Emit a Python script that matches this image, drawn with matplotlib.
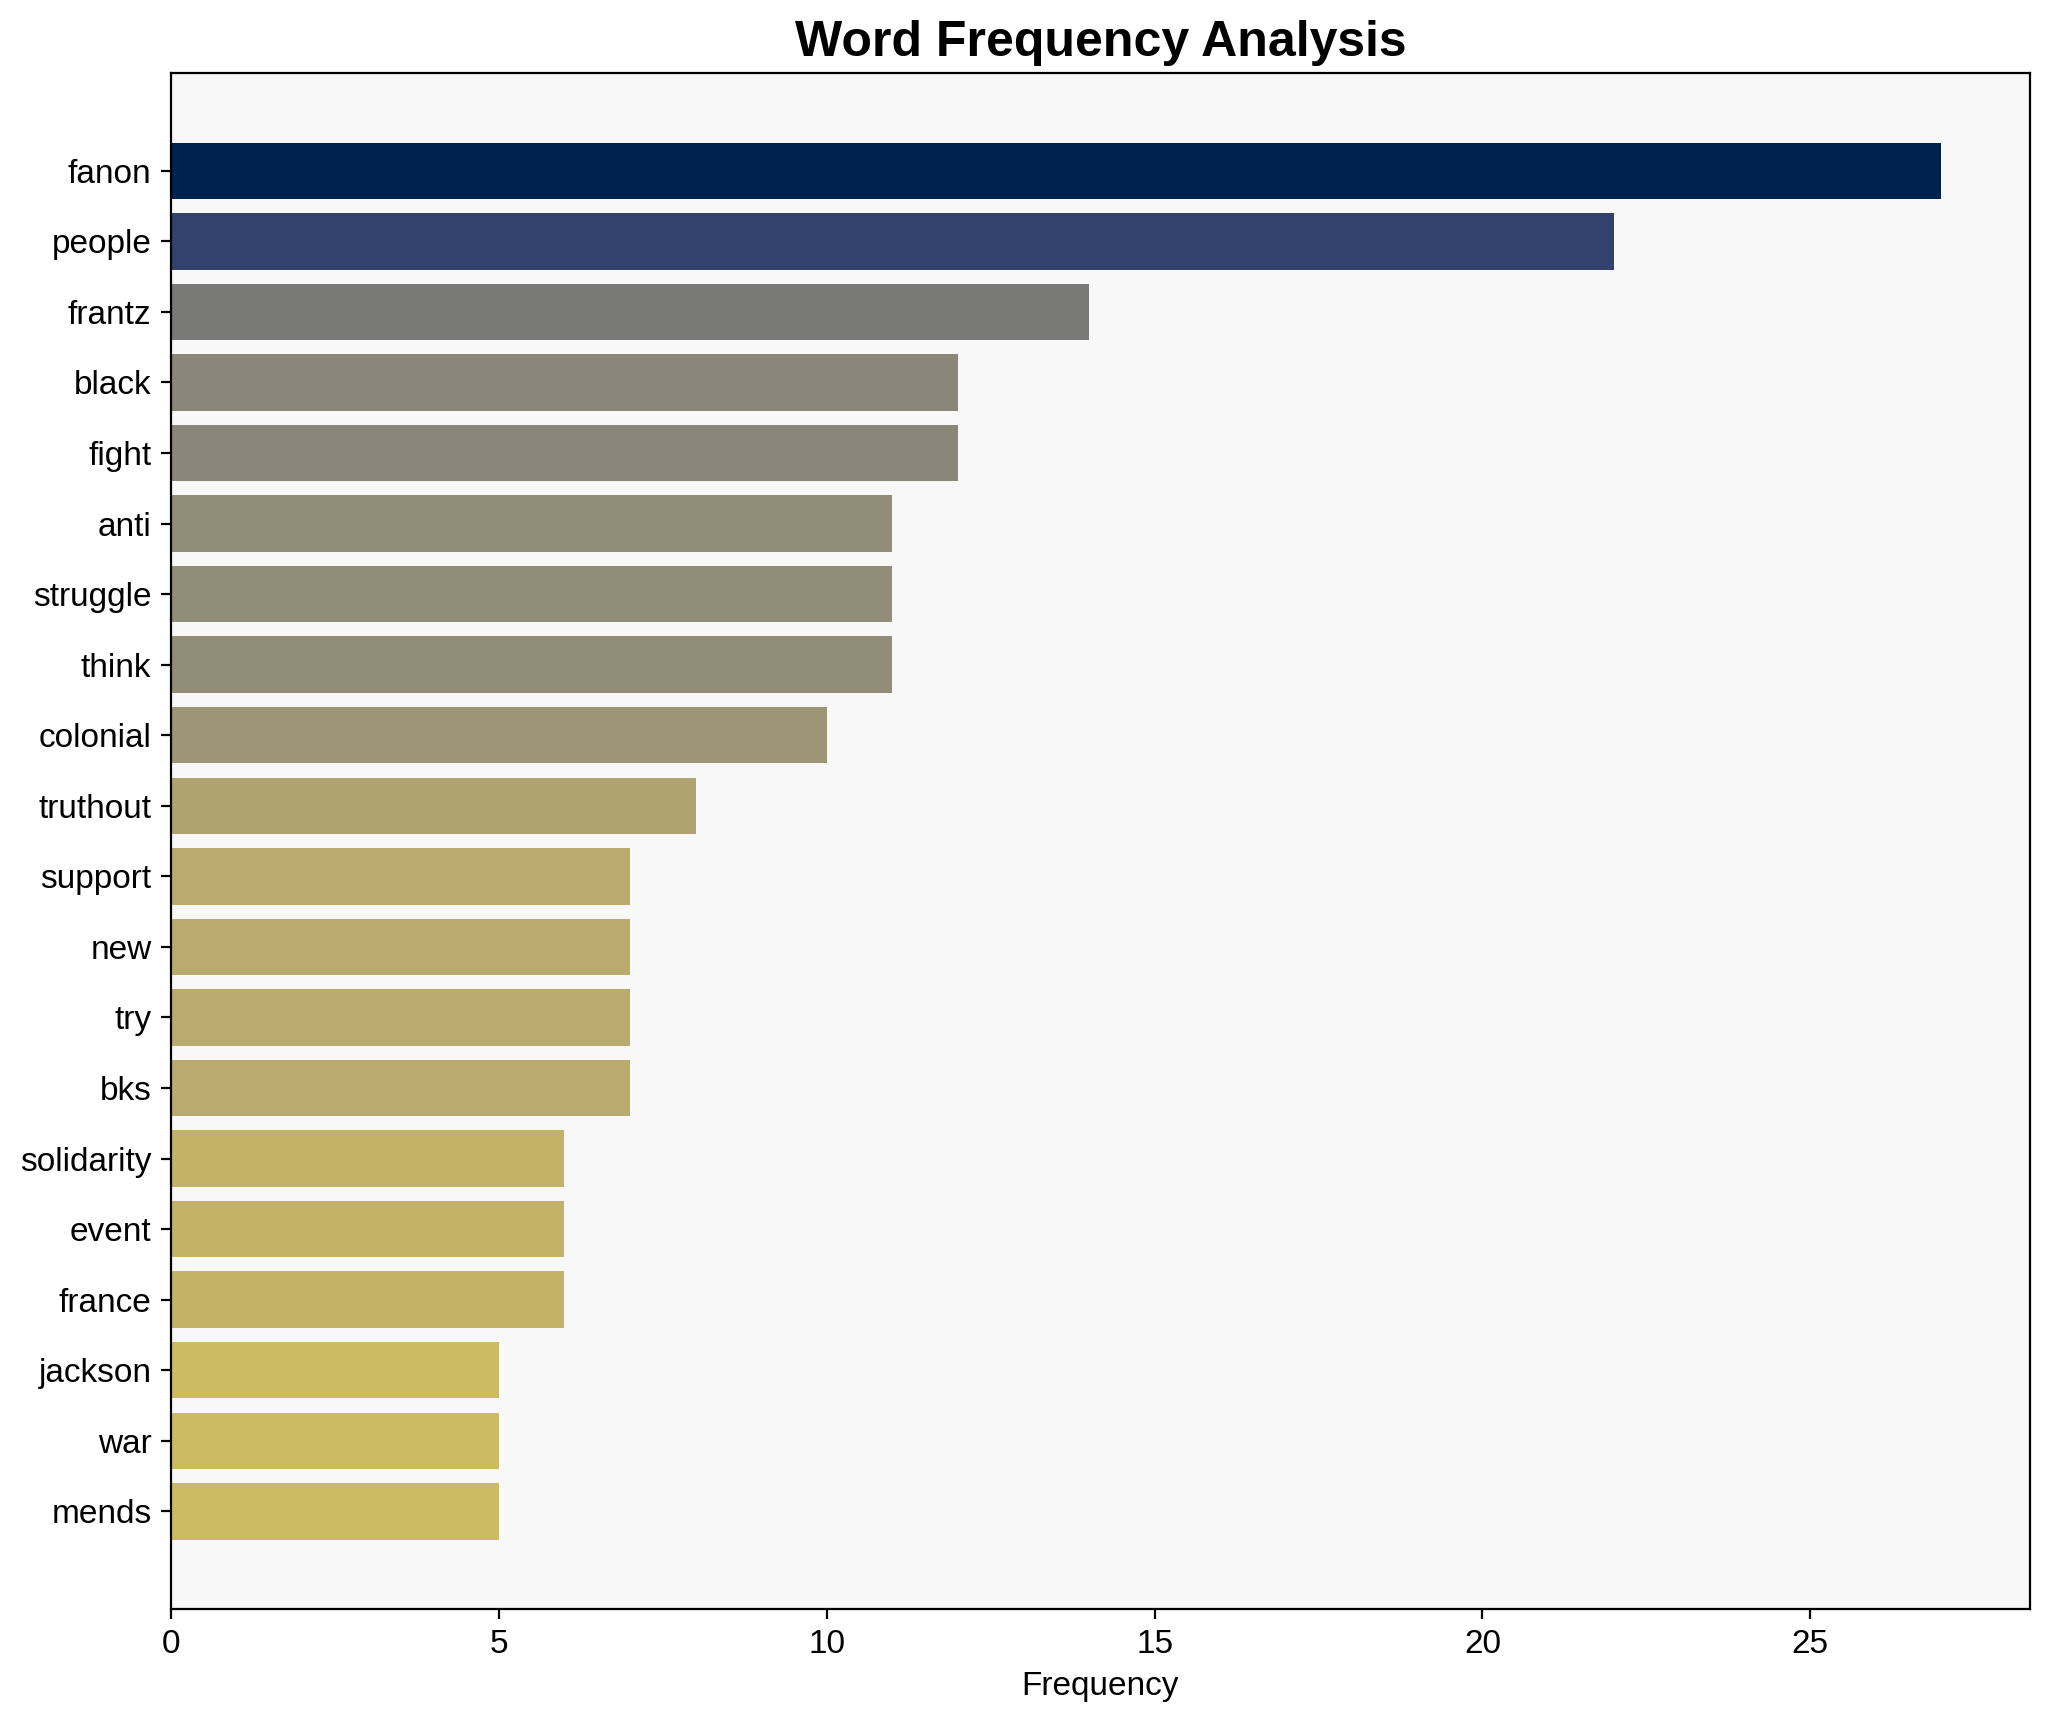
import matplotlib.pyplot as plt
import numpy as np

plt.rcParams['font.family'] = ['Liberation Sans', 'DejaVu Sans']

#%% Datos
palabras = ['fanon', 'people', 'frantz', 'black', 'fight', 'anti', 'struggle',
            'think', 'colonial', 'truthout', 'support', 'new', 'try', 'bks',
            'solidarity', 'event', 'france', 'jackson', 'war', 'mends']
frecuencias = [27, 22, 14, 12, 12, 11, 11, 11, 10, 8, 7, 7, 7, 7, 6, 6, 6, 5, 5, 5]

#%% Grafico
frec = np.array(frecuencias)
colores = plt.cm.cividis_r(frec / frec.max())

fig, ax = plt.subplots(figsize=(10.25, 8.61), dpi=200)
ax.set_facecolor('#f8f8f8')
ax.barh(palabras, frecuencias, color=colores)
ax.invert_yaxis()
ax.set_title('Word Frequency Analysis', fontsize=18, fontweight='bold')
ax.set_xlabel('Frequency', fontsize=12)
ax.tick_params(axis='both', labelsize=12)
plt.tight_layout(pad=0.72)
plt.savefig('out.png', dpi=200)
